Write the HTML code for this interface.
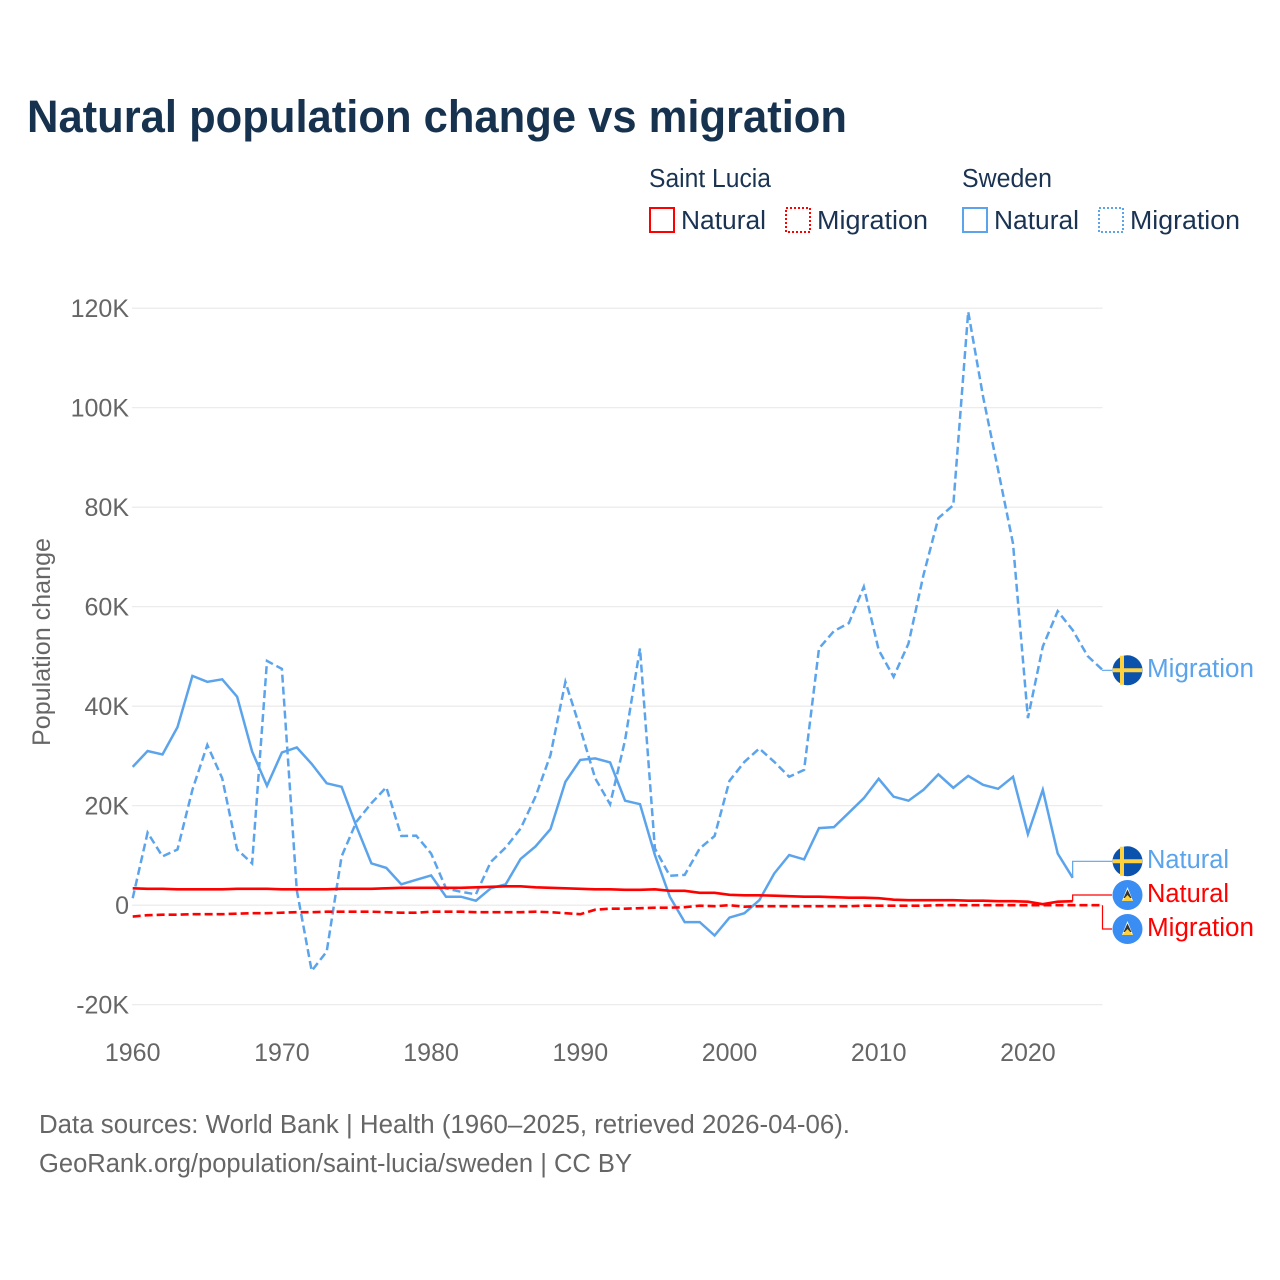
<!DOCTYPE html>
<html lang="en">
<head>
<meta charset="utf-8">
<title>Natural population change vs migration</title>
<style>
html,body{margin:0;padding:0;background:#fff;width:1280px;height:1280px;overflow:hidden}
svg{display:block}
text{font-family:"Liberation Sans",sans-serif}
.legend{fill:#1a3352;font-size:25.5px}
.tick{fill:#666;font-size:25px}
.foot{fill:#666;font-size:25.5px}
.dl{font-size:25.5px}
</style>
</head>
<body>
<svg id="chart" xmlns="http://www.w3.org/2000/svg" width="1280" height="1280" viewBox="0 0 1280 1280">
  <text x="27" y="132" font-size="45" font-weight="700" fill="#17324f" textLength="820" lengthAdjust="spacingAndGlyphs">Natural population change vs migration</text>

  <g>
    <text class="legend" x="649" y="187" textLength="122" lengthAdjust="spacingAndGlyphs">Saint Lucia</text>
    <text class="legend" x="962" y="187" textLength="90" lengthAdjust="spacingAndGlyphs">Sweden</text>
    <rect x="650" y="208" width="24" height="24" fill="none" stroke="#ff0000" stroke-width="2"/>
    <text class="legend" x="681" y="229" textLength="85" lengthAdjust="spacingAndGlyphs">Natural</text>
    <rect x="786" y="208" width="24" height="24" fill="none" stroke="#ff0000" stroke-width="2" stroke-dasharray="2 2"/>
    <text class="legend" x="817" y="229" textLength="111" lengthAdjust="spacingAndGlyphs">Migration</text>
    <rect x="963" y="208" width="24" height="24" fill="none" stroke="#5ba4ec" stroke-width="2"/>
    <text class="legend" x="994" y="229" textLength="85" lengthAdjust="spacingAndGlyphs">Natural</text>
    <rect x="1099" y="208" width="24" height="24" fill="none" stroke="#5ba4ec" stroke-width="2" stroke-dasharray="2 2"/>
    <text class="legend" x="1130" y="229" textLength="110" lengthAdjust="spacingAndGlyphs">Migration</text>
  </g>

  <g id="grid"></g>
  <g id="yticks"></g>
  <g id="xticks"></g>
  <text class="tick" transform="translate(50,642) rotate(-90)" text-anchor="middle" textLength="208" lengthAdjust="spacingAndGlyphs">Population change</text>
  <g id="series"></g>

  <g>
    <g>
      <circle cx="1127.5" cy="670.3" r="15" fill="#0b52ad"/>
      <path d="M1112.8 668.3h29.4v4h-29.4zM1120 655.8h4v29h-4z" fill="#fdd23e"/>
    </g>
    <text class="dl" x="1147" y="677" fill="#5ba4ec" textLength="107" lengthAdjust="spacingAndGlyphs">Migration</text>
    <g>
      <circle cx="1127.5" cy="861.3" r="15" fill="#0b52ad"/>
      <path d="M1112.8 859.3h29.4v4h-29.4zM1120 846.8h4v29h-4z" fill="#fdd23e"/>
    </g>
    <text class="dl" x="1147" y="868" fill="#5ba4ec" textLength="82" lengthAdjust="spacingAndGlyphs">Natural</text>
    <g>
      <circle cx="1127.5" cy="895" r="15" fill="#3a8df2"/>
      <path d="M1127.5 887l5.5 14h-11z" fill="#fff"/>
      <path d="M1127.5 889.5l4 8.5h-8z" fill="#333"/>
      <path d="M1127.5 895l5.5 6h-11z" fill="#fdd23e"/>
    </g>
    <text class="dl" x="1147" y="902" fill="#ff0000" textLength="82" lengthAdjust="spacingAndGlyphs">Natural</text>
    <g>
      <circle cx="1127.5" cy="929" r="15" fill="#3a8df2"/>
      <path d="M1127.5 921l5.5 14h-11z" fill="#fff"/>
      <path d="M1127.5 923.5l4 8.5h-8z" fill="#333"/>
      <path d="M1127.5 929l5.5 6h-11z" fill="#fdd23e"/>
    </g>
    <text class="dl" x="1147" y="936" fill="#ff0000" textLength="107" lengthAdjust="spacingAndGlyphs">Migration</text>
  </g>

  <text class="foot" x="39" y="1133" textLength="811" lengthAdjust="spacingAndGlyphs">Data sources: World Bank | Health (1960–2025, retrieved 2026-04-06).</text>
  <text class="foot" x="39" y="1172" textLength="593" lengthAdjust="spacingAndGlyphs">GeoRank.org/population/saint-lucia/sweden | CC BY</text>
</svg>
<script>
const startYear = 1960;
const yTickValues = [-20, 0, 20, 40, 60, 80, 100, 120];
const yTickLabels = ["-20K", "0", "20K", "40K", "60K", "80K", "100K", "120K"];
const xTickYears = [1960, 1970, 1980, 1990, 2000, 2010, 2020];

const swedenNatural = [27.8,31,30.3,35.8,46.1,44.9,45.4,41.9,30.9,24,30.7,31.7,28.4,24.5,23.8,15.8,8.4,7.5,4.2,5.1,6,1.7,1.7,0.9,3.4,4.2,9.3,11.8,15.3,24.8,29.2,29.5,28.7,21,20.3,10.1,1.7,-3.4,-3.4,-6.1,-2.5,-1.6,1,6.4,10.1,9.2,15.5,15.7,18.6,21.5,25.4,21.8,21,23.2,26.3,23.6,26,24.2,23.4,25.8,14.3,23.2,10.4,5.5];
const swedenMigration = [1.4,14.6,9.8,11.2,23.2,32.2,25.5,11.2,8.4,49.1,47.5,3,-13.2,-9.3,9.8,16.8,20.5,23.7,13.9,14,10.4,3.4,2.7,2.2,8.7,11.6,15.4,21.8,30.2,44.9,35.5,25.5,20.3,33.2,51.6,11.4,5.9,6.1,11.4,13.9,25,28.8,31.5,28.8,25.8,27.2,51.6,55.1,56.7,64,51.3,45.9,52.6,66.4,77.8,80.4,119.3,102.2,87.5,72.7,37.6,52,59.1,55.3,50.1,47.3];
const luciaNatural = [3.4,3.3,3.3,3.2,3.2,3.2,3.2,3.3,3.3,3.3,3.2,3.2,3.2,3.2,3.3,3.3,3.3,3.4,3.5,3.5,3.5,3.5,3.5,3.6,3.7,3.8,3.8,3.6,3.5,3.4,3.3,3.2,3.2,3.1,3.1,3.2,2.9,2.9,2.5,2.5,2.1,2,2,1.9,1.8,1.7,1.7,1.6,1.5,1.5,1.4,1.1,1,1,1,1,0.9,0.9,0.8,0.8,0.7,0.2,0.7,0.8];
const luciaMigration = [-2.3,-2,-1.9,-1.9,-1.8,-1.8,-1.8,-1.7,-1.6,-1.6,-1.5,-1.4,-1.4,-1.3,-1.3,-1.3,-1.3,-1.4,-1.5,-1.5,-1.3,-1.3,-1.3,-1.4,-1.4,-1.4,-1.4,-1.3,-1.4,-1.6,-1.8,-0.9,-0.7,-0.7,-0.6,-0.5,-0.5,-0.4,-0.1,-0.2,0,-0.3,-0.2,-0.2,-0.2,-0.2,-0.2,-0.2,-0.2,-0.1,-0.1,-0.1,-0.1,-0.1,0,0,0,0,0,0,0,0,0,0,0,0];

const NS = "http://www.w3.org/2000/svg";
function xScale(year) { return 132.7 + (year - 1960) * 14.92; }
function yScale(v) { return 905.2 - v * 4.975; }

function makeSvg(tag, attrs, parent) {
  const el = document.createElementNS(NS, tag);
  for (const k in attrs) el.setAttribute(k, attrs[k]);
  parent.appendChild(el);
  return el;
}

const gridGroup = document.getElementById("grid");
const yTickGroup = document.getElementById("yticks");
yTickValues.forEach(function (v, i) {
  const line = makeSvg("line", {x1: 132, x2: 1102.5, y1: yScale(v), y2: yScale(v), stroke: "#e9e9e9", "stroke-width": 1.2}, gridGroup);
  
  
  const label = makeSvg("text", {x: 129, y: yScale(v) + 9, "text-anchor": "end", class: "tick"}, yTickGroup);
  
  
  label.textContent = yTickLabels[i];
});

const xTickGroup = document.getElementById("xticks");
xTickYears.forEach(function (yr) {
  const label = makeSvg("text", {x: xScale(yr), y: 1061, "text-anchor": "middle", class: "tick"}, xTickGroup);
  
  
  label.textContent = String(yr);
});

function drawSeries(values, color, dash, width, name) {
  const seriesGroup = document.getElementById("series");
  const pts = values.map(function (v, i) { return xScale(startYear + i).toFixed(1) + "," + yScale(v).toFixed(1); });
  const attrs = {points: pts.join(" "), fill: "none", stroke: color, "stroke-width": width, "stroke-linejoin": "miter"};
  if (dash) attrs["stroke-dasharray"] = dash;
  const line = makeSvg("polyline", attrs, seriesGroup);
  
  
}

function drawConnector(values, labelY, color, name) {
  const seriesGroup = document.getElementById("series");
  const lastX = xScale(startYear + values.length - 1);
  const lastY = yScale(values[values.length - 1]);
  const pts = [lastX + "," + lastY, lastX + "," + labelY, "1112," + labelY].join(" ");
  const line = makeSvg("polyline", {points: pts, fill: "none", stroke: color, "stroke-width": 1.2}, seriesGroup);
  
  
}

drawSeries(swedenNatural, "#5ba4ec", null, 2.5, "line-sweden-natural");
drawSeries(swedenMigration, "#5ba4ec", "8 4", 2.5, "line-sweden-migration");
drawSeries(luciaNatural, "#ff0000", null, 2.6, "line-saint-lucia-natural");
drawSeries(luciaMigration, "#ff0000", "8 4", 2.6, "line-saint-lucia-migration");
drawConnector(swedenNatural, 861.3, "#5ba4ec", "connector-sweden-natural");
drawConnector(swedenMigration, 670.3, "#5ba4ec", "connector-sweden-migration");
drawConnector(luciaNatural, 895, "#ff0000", "connector-saint-lucia-natural");
drawConnector(luciaMigration, 929, "#ff0000", "connector-saint-lucia-migration");
</script>
</body>
</html>
